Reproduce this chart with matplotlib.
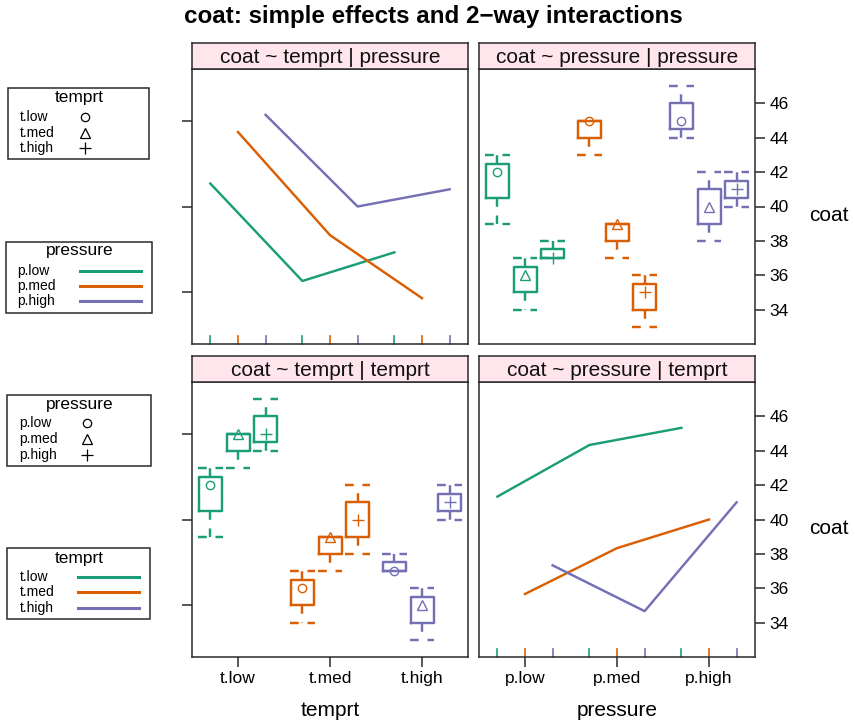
import numpy as np
import matplotlib
matplotlib.use("Agg")
import matplotlib.pyplot as plt
from matplotlib.lines import Line2D
from matplotlib.patches import Rectangle

plt.rcParams['font.family'] = ['Liberation Sans', 'DejaVu Sans']

# ---------------- data ----------------
temprt_levels = ['t.low', 't.med', 't.high']
pressure_levels = ['p.low', 'p.med', 'p.high']
# three replicate coat measurements for each (temprt, pressure) cell; order p.low, p.med, p.high
coat_t_low = [[39, 42, 43], [43, 45, 45], [44, 45, 47]]
coat_t_med = [[34, 36, 37], [37, 39, 39], [38, 40, 42]]
coat_t_high = [[37, 37, 38], [33, 35, 36], [40, 41, 42]]

coat = np.array([coat_t_low, coat_t_med, coat_t_high], dtype=float)  # [temprt, pressure, rep]
cell_means = coat.mean(axis=2)

colors = ['#1B9E77', '#D95F02', '#7570B3']
markers = ['o', '^', '+']
msizes = [6, 7.5, 8.5]
offsets = np.array([-0.3, 0.0, 0.3])
base = np.arange(1, 4)

# ---------------- figure ----------------
W, H = 855, 724
fig = plt.figure(figsize=(W / 100, H / 100), dpi=100)

def fx(x):
    return x / W

def fy(y):
    return 1 - y / H

frame_col = '#2a2a2a'
strip_col = '#FFE5EC'
LW = 1.75

panel_x = [192, 479]
panel_w = 276
panel_y = [69, 382]
panel_h = 275
strip_h = 26

axes = {}
for r in range(2):
    for c in range(2):
        left = panel_x[c]
        top = panel_y[r]
        ax = fig.add_axes([fx(left), fy(top + panel_h), panel_w / W, panel_h / H])
        ax.set_xlim(0.5, 3.5)
        ax.set_ylim(32, 48)
        for s in ax.spines.values():
            s.set_color(frame_col)
            s.set_linewidth(1.1)
        sax = fig.add_axes([fx(left), fy(top), panel_w / W, strip_h / H])
        sax.set_facecolor(strip_col)
        sax.set_xticks([])
        sax.set_yticks([])
        for s in sax.spines.values():
            s.set_color(frame_col)
            s.set_linewidth(1.1)
        axes[(r, c)] = (ax, sax)

strip_titles = {(0, 0): 'coat ~ temprt | pressure',
                (0, 1): 'coat ~ pressure | pressure',
                (1, 0): 'coat ~ temprt | temprt',
                (1, 1): 'coat ~ pressure | temprt'}
for key, (ax, sax) in axes.items():
    sax.text(0.5, 0.45, strip_titles[key], ha='center', va='center',
             fontsize=15, color='#111111', transform=sax.transAxes)


def draw_box(ax, data, pos, color, marker, ms):
    ax.boxplot([data], positions=[pos], widths=0.25, whis=(0, 100),
               showfliers=False, manage_ticks=False, capwidths=[0.27],
               boxprops=dict(color=color, linewidth=LW),
               whiskerprops=dict(color=color, linewidth=LW, linestyle=(0, (3.6, 3.6))),
               capprops=dict(color=color, linewidth=LW, linestyle=(0, (3.6, 3.6))),
               medianprops=dict(linestyle='none'))
    ax.plot([pos], [np.median(data)], marker=marker, ms=ms, mfc='none',
            mec=color, mew=1.0, linestyle='none')


def colored_ticks(ax):
    tr = ax.get_xaxis_transform()
    for k in range(3):
        for g in range(3):
            ax.plot([base[g] + offsets[k]] * 2, [0, 8 / panel_h], color=colors[k],
                    lw=1.2, transform=tr, clip_on=False)


# top-left: coat ~ temprt | pressure (lines for pressure)
ax = axes[(0, 0)][0]
for j in range(3):
    ax.plot(base + offsets[j], cell_means[:, j], color=colors[j], lw=LW)
colored_ticks(ax)

# top-right: coat ~ pressure | pressure (boxes by pressure, symbols temprt)
ax = axes[(0, 1)][0]
for j in range(3):
    for i in range(3):
        draw_box(ax, coat[i, j], base[j] + offsets[i], colors[j], markers[i], msizes[i])

# bottom-left: coat ~ temprt | temprt (boxes by temprt, symbols pressure)
ax = axes[(1, 0)][0]
for i in range(3):
    for j in range(3):
        draw_box(ax, coat[i, j], base[i] + offsets[j], colors[i], markers[j], msizes[j])

# bottom-right: coat ~ pressure | temprt (lines for temprt)
ax = axes[(1, 1)][0]
for i in range(3):
    ax.plot(base + offsets[i], cell_means[i, :], color=colors[i], lw=LW)
colored_ticks(ax)

# ---------------- axes / ticks ----------------
for (r, c), (ax, sax) in axes.items():
    ax.tick_params(axis='both', direction='out', length=7.2, width=1.1,
                   color=frame_col, labelsize=12.5, pad=3)
    if c == 0:
        ax.set_yticks([35, 40, 45])
        ax.tick_params(axis='y', left=True, right=False, labelleft=False, labelright=False)
    else:
        ax.set_yticks(np.arange(34, 47, 2))
        ax.yaxis.tick_right()
        ax.tick_params(axis='y', left=False, right=True, labelleft=False, labelright=True)
        ax.yaxis.set_label_position('right')
        ax.set_ylabel('coat', rotation=0, fontsize=15, ha='center', va='center')
        ax.yaxis.set_label_coords(1.268, 0.469)
    if r == 0:
        ax.set_xticks([])
    else:
        ax.set_xticks(base)
        ax.set_xticklabels(temprt_levels if c == 0 else pressure_levels)
        ax.set_xlabel('temprt' if c == 0 else 'pressure', fontsize=15, va='center')
        ax.xaxis.set_label_coords(0.5, -0.193)

# ---------------- title ----------------
fig.text(fx(433), fy(16), 'coat: simple effects and 2\u2212way interactions',
         ha='center', va='center', fontsize=17.4, fontweight='bold')

# ---------------- legends ----------------
def legend_box(x0, y0, x1, y1, title, title_y, labels, rows_y, text_x, kind,
               sym_x=None, line_x=None):
    fig.add_artist(Rectangle((fx(x0), fy(y1)), (x1 - x0) / W, (y1 - y0) / H,
                             transform=fig.transFigure, fill=False,
                             edgecolor=frame_col, lw=1.1))
    fig.text(fx((x0 + x1) / 2 + 1), fy(title_y), title, ha='center', va='center',
             fontsize=12.5)
    for k, (lab, yy) in enumerate(zip(labels, rows_y)):
        fig.text(fx(text_x), fy(yy), lab, ha='left', va='center', fontsize=10)
        if kind == 'sym':
            fig.add_artist(Line2D([fx(sym_x)], [fy(yy)], marker=markers[k],
                                  ms=msizes[k], mfc='none', mec='black', mew=0.9,
                                  linestyle='none', transform=fig.transFigure))
        else:
            fig.add_artist(Line2D([fx(line_x[0]), fx(line_x[1])], [fy(yy), fy(yy)],
                                  color=colors[k], lw=2.2, transform=fig.transFigure))

legend_box(8.3, 88.3, 149, 159.3, 'temprt', 97.3, temprt_levels,
           [117.3, 132.7, 148.3], 20, 'sym', sym_x=85)
legend_box(5.7, 241.7, 151.7, 312.7, 'pressure', 250.7, pressure_levels,
           [270.7, 286, 301], 17.3, 'line', line_x=(80, 141))
legend_box(7.3, 395, 150.7, 466, 'pressure', 405, pressure_levels,
           [423.3, 439.3, 455.3], 19, 'sym', sym_x=87)
legend_box(7.3, 548.3, 150, 619.3, 'temprt', 558.3, temprt_levels,
           [576.7, 592.3, 608.3], 20, 'line', line_x=(78.3, 139.3))

fig.savefig('out.png', dpi=100)
